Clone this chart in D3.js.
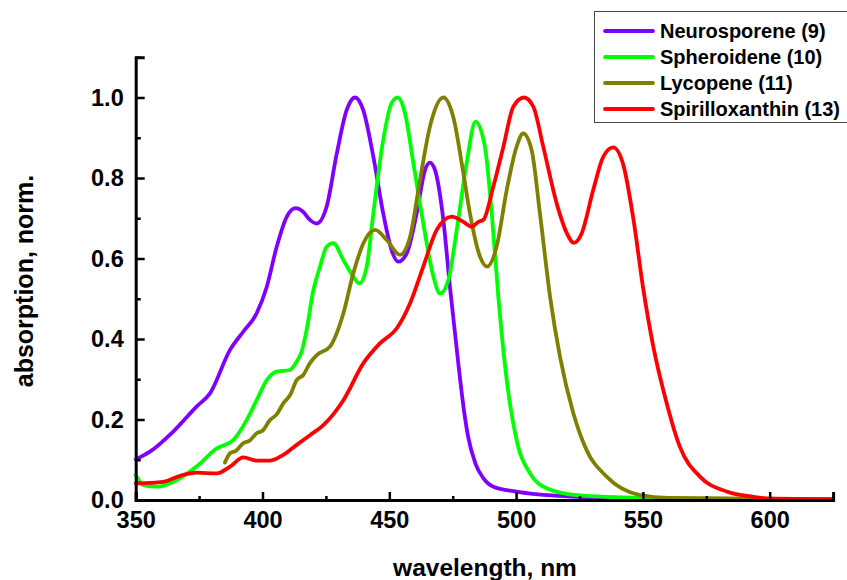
<!DOCTYPE html>
<html>
<head>
<meta charset="utf-8">
<script src="https://cdn.jsdelivr.net/npm/d3@7/dist/d3.min.js"></script>
<style>
  html, body { margin: 0; padding: 0; background: #fff; }
  svg { display: block; }
  text { font-family: "Liberation Sans", Arial, sans-serif; font-weight: bold; }
</style>
</head>
<body>
<svg id="chart" width="847" height="580"></svg>
<script>
// ---- data ----
const seriesNames = ["Neurosporene (9)", "Spheroidene (10)", "Lycopene (11)", "Spirilloxanthin (13)"];
const seriesColors = ["#8000ff", "#00ff00", "#808000", "#ff0000"];

const neuroWl  = [350, 355.6, 364.8, 374, 379.3, 387.2, 392.4, 397.7, 401.7, 405.6, 409.6, 413.1, 416, 418.7, 421.4, 425.3, 429.3, 433.2, 436.5, 439.7, 443.7, 447.6, 450.9, 453.5, 456.9, 460.8, 464.1, 466, 468, 471.3, 473.9, 477.2, 479.5, 481, 484, 487, 491, 500, 517, 530, 545, 560, 600];
const neuroAbs = [0.101, 0.12, 0.17, 0.232, 0.265, 0.373, 0.418, 0.464, 0.53, 0.629, 0.704, 0.725, 0.716, 0.696, 0.687, 0.729, 0.861, 0.969, 1.0, 0.969, 0.853, 0.712, 0.621, 0.592, 0.613, 0.712, 0.82, 0.838, 0.82, 0.696, 0.53, 0.34, 0.22, 0.16, 0.09, 0.055, 0.033, 0.021, 0.01, 0.006, 0.003, 0.001, 0.0];

const spheWl  = [350, 353, 358.2, 364.8, 374, 381.9, 388.5, 393.8, 397.7, 401.7, 405.6, 410.8, 413.5, 415.5, 417.4, 420, 422.7, 425.3, 427.9, 431.9, 435.8, 438.2, 441.1, 443.7, 447.6, 450.9, 453.3, 456.2, 459.5, 463.4, 467.4, 470, 473.3, 476.6, 480.5, 484, 487.7, 490.4, 493, 496.3, 500.2, 505.5, 512, 523.9, 550, 600, 625];
const spheAbs = [0.062, 0.037, 0.033, 0.045, 0.083, 0.128, 0.149, 0.199, 0.248, 0.298, 0.319, 0.323, 0.344, 0.37, 0.422, 0.52, 0.58, 0.629, 0.638, 0.596, 0.555, 0.538, 0.58, 0.712, 0.894, 0.986, 1.0, 0.961, 0.837, 0.687, 0.555, 0.513, 0.547, 0.671, 0.837, 0.94, 0.878, 0.712, 0.505, 0.298, 0.149, 0.066, 0.029, 0.012, 0.005, 0.002, 0.001];

const lycoWl  = [385.2, 387.2, 389.5, 392.4, 395, 397.7, 400, 403, 405.5, 408.2, 411, 413.5, 416, 418.7, 421.4, 426.6, 431.9, 435.8, 439.8, 444.4, 449, 454.2, 458.2, 462.1, 466, 471.3, 475.2, 479.2, 481.8, 485.8, 488.6, 492.3, 496.3, 500.2, 502.8, 506.1, 509.4, 513.4, 517.3, 522.6, 527.8, 535.7, 548.9, 560, 600, 625];
const lycoAbs = [0.093, 0.116, 0.122, 0.141, 0.148, 0.166, 0.172, 0.199, 0.212, 0.24, 0.262, 0.298, 0.31, 0.34, 0.36, 0.381, 0.464, 0.563, 0.638, 0.671, 0.646, 0.609, 0.654, 0.795, 0.927, 1.0, 0.952, 0.812, 0.712, 0.604, 0.58, 0.629, 0.77, 0.878, 0.911, 0.87, 0.712, 0.505, 0.356, 0.215, 0.124, 0.058, 0.012, 0.005, 0.003, 0.002];

const spirWl  = [350, 360.9, 367.5, 374, 381.9, 387.2, 392.4, 397.7, 403, 408.2, 413.5, 418.7, 424, 431.9, 439.8, 446.3, 452.9, 458.2, 463.4, 468.7, 474.6, 479.2, 482.5, 485.1, 487.1, 491, 495, 498.9, 503.1, 506.8, 510.7, 516, 520, 522.8, 525.9, 530.4, 534.4, 538.3, 542.3, 546.2, 550.2, 554.1, 559.4, 564.6, 572.5, 583, 593.5, 600, 625];
const spirAbs = [0.041, 0.045, 0.06, 0.068, 0.066, 0.083, 0.106, 0.098, 0.098, 0.112, 0.137, 0.161, 0.186, 0.248, 0.34, 0.389, 0.426, 0.489, 0.58, 0.671, 0.704, 0.691, 0.679, 0.691, 0.696, 0.778, 0.878, 0.977, 1.0, 0.977, 0.878, 0.737, 0.663, 0.639, 0.663, 0.77, 0.853, 0.876, 0.832, 0.7, 0.522, 0.381, 0.24, 0.132, 0.058, 0.021, 0.008, 0.004, 0.002];

const xTickValues = [350, 400, 450, 500, 550, 600];
const xMinorTicks = [375, 425, 475, 525, 575, 625];
const yTickValues = [0.0, 0.2, 0.4, 0.6, 0.8, 1.0];
const yMinorTicks = [0.1, 0.3, 0.5, 0.7, 0.9, 1.1];

const seriesWl  = [neuroWl, spheWl, lycoWl, spirWl];
const seriesAbs = [neuroAbs, spheAbs, lycoAbs, spirAbs];

// ---- layout ----
const svg = d3.select("#chart");
const x = d3.scaleLinear().domain([350, 625]).range([135.7, 833.1]);
const y = d3.scaleLinear().domain([0, 1.1]).range([500, 57.25]);

// lines
const line = d3.line()
  .x(d => x(d[0]))
  .y(d => y(d[1]))
  .curve(d3.curveMonotoneX);

seriesNames.forEach((name, i) => {
  const pts = seriesWl[i].map((w, j) => [w, seriesAbs[i][j]]);
  svg.append("path")
    .datum(pts)
    .attr("fill", "none")
    .attr("stroke", seriesColors[i])
    .attr("stroke-width", 3.8)
    .attr("stroke-linejoin", "round")
    .attr("stroke-linecap", "round")
    .attr("d", line);
});

const tickFont = 23.5;

// x axis
const xAxis = svg.append("g").attr("transform", `translate(0,${y(0)})`);
xAxis.call(d3.axisBottom(x).tickValues(xTickValues).tickSize(-8).tickPadding(11).tickFormat(d3.format("d")));
xAxis.append("g").call(d3.axisBottom(x).tickValues(xMinorTicks).tickSize(-4).tickFormat(""));
xAxis.selectAll(".domain").attr("stroke", "#000").attr("stroke-width", 3);
xAxis.selectAll(".tick line").attr("stroke", "#000").attr("stroke-width", 2.5);
xAxis.selectAll("text").attr("font-size", tickFont).attr("fill", "#000")
  .attr("font-family", "'Liberation Sans', Arial, sans-serif").attr("font-weight", "bold");
xAxis.selectAll("g g .domain").remove();

// y axis
const yAxis = svg.append("g").attr("transform", `translate(${x(350)},0)`);
yAxis.call(d3.axisLeft(y).tickValues(yTickValues).tickSize(-9).tickPadding(12).tickFormat(d3.format(".1f")));
yAxis.append("g").call(d3.axisLeft(y).tickValues(yMinorTicks).tickSize(-5).tickFormat(""));
yAxis.selectAll(".domain").attr("stroke", "#000").attr("stroke-width", 3);
yAxis.selectAll(".tick line").attr("stroke", "#000").attr("stroke-width", 2.5);
yAxis.selectAll("text").attr("font-size", tickFont).attr("fill", "#000")
  .attr("font-family", "'Liberation Sans', Arial, sans-serif").attr("font-weight", "bold");
yAxis.selectAll("g g .domain").remove();

// axis titles
svg.append("text")
  .attr("x", 485).attr("y", 576)
  .attr("text-anchor", "middle")
  .attr("font-size", 24.5)
  .text("wavelength, nm");

svg.append("text")
  .attr("transform", "translate(33,281) rotate(-90)")
  .attr("text-anchor", "middle")
  .attr("font-size", 25)
  .text("absorption, norm.");

// legend
const legend = svg.append("g");
legend.append("rect")
  .attr("x", 594.5).attr("y", 11.5)
  .attr("width", 270).attr("height", 111)
  .attr("fill", "#fff")
  .attr("stroke", "#444")
  .attr("stroke-width", 1);

const rowY = [31, 57, 83, 109];
seriesNames.forEach((name, i) => {
  legend.append("line")
    .attr("x1", 605).attr("x2", 653)
    .attr("y1", rowY[i]).attr("y2", rowY[i])
    .attr("stroke", seriesColors[i])
    .attr("stroke-width", 3.8)
    .attr("stroke-linecap", "round");
  legend.append("text")
    .attr("x", 660).attr("y", rowY[i] + 6.5)
    .attr("font-size", 20)
    .text(name);
});
</script>
</body>
</html>
